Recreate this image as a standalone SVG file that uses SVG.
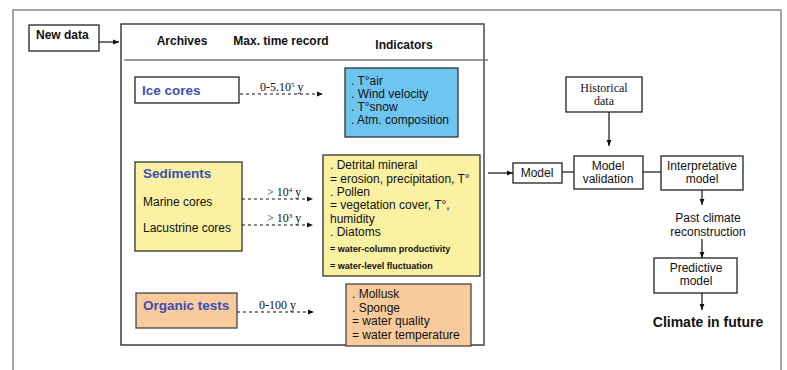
<svg xmlns="http://www.w3.org/2000/svg" width="787" height="370" viewBox="0 0 787 370">
<defs>
<style>
text{font-family:"Liberation Sans",Arial,sans-serif;font-size:12px;fill:#111}
.b{font-weight:bold}
.blue{fill:#3a4fb5;font-weight:bold;font-size:13.5px}
.serif{font-family:"Liberation Serif","Times New Roman",serif;font-size:12px}
.box{fill:#fff;stroke:#222;stroke-width:1.3}
.yel{fill:#faf2a2;stroke:#333;stroke-width:1.3}
.blu{fill:#6ec6f0;stroke:#333;stroke-width:1.3}
.ora{fill:#f9cb9c;stroke:#444;stroke-width:1.3}
.ln{stroke:#111;stroke-width:1.2;fill:none}
.dash{stroke:#111;stroke-width:1.1;fill:none;stroke-dasharray:3,3}
.sm{font-size:9px;font-weight:bold}
.c{text-anchor:middle}
</style>
<marker id="ah" viewBox="0 0 10 10" refX="10" refY="5" markerWidth="6" markerHeight="6" orient="auto" markerUnits="userSpaceOnUse">
<path d="M0,1 L10,5 L0,9 z" fill="#111"/>
</marker>
</defs>
<rect x="13" y="10" width="768" height="370" fill="none" stroke="#888" stroke-width="1.5"/>
<g id="main-panel">
<rect x="121" y="24" width="363" height="321" fill="#fff" stroke="#222" stroke-width="1.3"/>
<line x1="484" y1="24" x2="484" y2="345" stroke="#777" stroke-width="1.6"/>
<line x1="124" y1="60" x2="488" y2="60" stroke="#777" stroke-width="1.3"/>
<text x="182" y="45" class="b c">Archives</text>
<text x="281" y="45" class="b c">Max. time record</text>
<text x="404" y="49" class="b c">Indicators</text>
</g>
<g id="new-data">
<rect x="29" y="25" width="70" height="26" class="box"/>
<text x="36" y="39" class="b">New data</text>
</g>
<g id="ice-cores">
<rect x="135" y="77" width="104" height="26" class="box"/>
<text x="142" y="95" class="blue">Ice cores</text>
</g>
<g id="ice-indicators">
<rect x="345" y="68" width="113" height="69" class="blu"/>
<text x="351" y="85">. T°air</text>
<text x="351" y="98">. Wind velocity</text>
<text x="351" y="111">. T°snow</text>
<text x="351" y="124">. Atm. composition</text>
</g>
<g id="sediments">
<rect x="135" y="162" width="107" height="89" class="yel"/>
<text x="143" y="178" class="blue">Sediments</text>
<text x="143" y="206">Marine cores</text>
<text x="143" y="232">Lacustrine cores</text>
</g>
<g id="sediment-indicators">
<rect x="323" y="155" width="157" height="121" class="yel"/>
<text x="330" y="169">. Detrital mineral</text>
<text x="330" y="183">= erosion, precipitation, T°</text>
<text x="330" y="196">. Pollen</text>
<text x="330" y="209">= vegetation cover, T°,</text>
<text x="330" y="223">humidity</text>
<text x="330" y="236">. Diatoms</text>
<text x="330" y="252" class="sm">= water-column productivity</text>
<text x="330" y="269" class="sm">= water-level fluctuation</text>
</g>
<g id="organic-tests">
<rect x="136" y="293" width="101" height="35" class="ora"/>
<text x="143" y="310" class="blue">Organic tests</text>
</g>
<g id="organic-indicators">
<rect x="346" y="284" width="125" height="62" class="ora"/>
<text x="352" y="298">. Mollusk</text>
<text x="352" y="312">. Sponge</text>
<text x="352" y="325">= water quality</text>
<text x="352" y="339">= water temperature</text>
</g>
<g id="historical-data">
<rect x="566" y="77" width="76" height="35" class="box"/>
<text x="604" y="92" class="serif c">Historical</text>
<text x="604" y="105" class="serif c">data</text>
</g>
<g id="model">
<rect x="513" y="163" width="49" height="20" class="box"/>
<text x="537" y="177" class="c">Model</text>
</g>
<g id="model-validation">
<rect x="574" y="156" width="69" height="33" class="box"/>
<text x="608" y="170" class="c">Model</text>
<text x="608" y="183" class="c">validation</text>
</g>
<g id="interpretative-model">
<rect x="661" y="156" width="82" height="34" class="box"/>
<text x="702" y="170" class="c">Interpretative</text>
<text x="702" y="183" class="c">model</text>
</g>
<g id="past-climate">
<text x="708" y="222" class="c">Past climate</text>
<text x="708" y="236" class="c">reconstruction</text>
</g>
<g id="predictive-model">
<rect x="654" y="258" width="83" height="35" class="box"/>
<text x="696" y="272" class="c">Predictive</text>
<text x="696" y="285" class="c">model</text>
</g>
<g id="climate-future">
<text x="708" y="327" class="b c" style="font-size:14px">Climate in future</text>
</g>
<g id="connectors">
<line x1="99" y1="42" x2="119" y2="42" class="ln" marker-end="url(#ah)"/>
<line x1="240" y1="94" x2="323" y2="94" class="dash" marker-end="url(#ah)"/>
<text x="260" y="91" class="serif">0-5.10<tspan font-size="7" dy="-4">5</tspan><tspan dy="4"> y</tspan></text>
<line x1="242" y1="199" x2="313" y2="199" class="dash" marker-end="url(#ah)"/>
<text x="267" y="196" class="serif">&gt; 10<tspan font-size="7" dy="-4">4</tspan><tspan dy="4"> y</tspan></text>
<line x1="242" y1="225" x2="313" y2="225" class="dash" marker-end="url(#ah)"/>
<text x="267" y="222" class="serif">&gt; 10<tspan font-size="7" dy="-4">3</tspan><tspan dy="4"> y</tspan></text>
<line x1="237" y1="312" x2="314" y2="312" class="dash" marker-end="url(#ah)"/>
<text x="259" y="309" class="serif">0-100 y</text>
<line x1="488" y1="173" x2="513" y2="173" class="ln" marker-end="url(#ah)"/>
<line x1="562" y1="172" x2="574" y2="172" class="ln"/>
<line x1="643" y1="172" x2="661" y2="172" class="ln"/>
<line x1="609" y1="112" x2="609" y2="146" class="ln" marker-end="url(#ah)"/>
<line x1="702" y1="190" x2="702" y2="205" class="ln" marker-end="url(#ah)"/>
<line x1="702" y1="239" x2="702" y2="258" class="ln" marker-end="url(#ah)"/>
<line x1="702" y1="293" x2="702" y2="310" class="ln" marker-end="url(#ah)"/>
</g>
</svg>
